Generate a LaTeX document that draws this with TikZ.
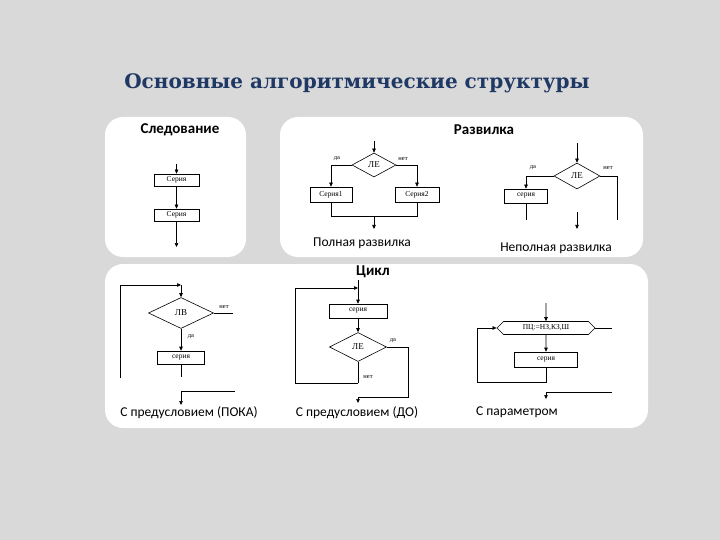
\documentclass[tikz,border=0pt]{standalone}
\usepackage{fontspec}
\setmainfont{Liberation Serif}
\setsansfont{Carlito}
\newfontfamily\titlefont{DejaVu Serif}
\usepackage{tikz}
\usetikzlibrary{arrows.meta, positioning, shapes.geometric, shapes.symbols}
\definecolor{bgGray}{RGB}{217,217,217}
\definecolor{tBlue}{RGB}{31,56,100}

\begin{document}
\begin{tikzpicture}[x=1pt, y=-1pt,
    panel/.style={fill=white, rounded corners=18pt},
    head/.style={font=\sffamily\bfseries\fontsize{15}{17}\selectfont},
    capt/.style={font=\sffamily\fontsize{13.5}{15}\selectfont},
    blk/.style={draw, line width=0.6pt, inner sep=0pt, font=\fontsize{7.5}{8}\selectfont},
    cond/.style={diamond, draw, line width=0.6pt, inner sep=0pt, font=\fontsize{9}{10}\selectfont},
    yn/.style={font=\fontsize{6.5}{7}\selectfont, inner sep=0pt},
    ln/.style={line width=0.6pt},
    arr/.style={line width=0.6pt, -{Triangle[length=4pt, width=3.5pt]}}]
  \fill[bgGray] (0,0) rectangle (720,540);
  \useasboundingbox (0,0) rectangle (720,540);

  \node[font=\titlefont\bfseries\fontsize{20}{24}\selectfont, text=tBlue] (title) at (357,83) {Основные алгоритмические структуры};

  % panels
  \fill[panel] (105,117) rectangle (246,257);
  \fill[panel] (280,117) rectangle (643,257);
  \fill[panel] (105,264) rectangle (648,428);

  % sequence
  \node[head] (hSeq) at (180,130) {Следование};
  \node[blk, minimum width=45pt, minimum height=12pt] (s1) at (176.5,180) {Серия};
  \node[blk, minimum width=45pt, minimum height=12pt] (s2) at (176.5,215) {Серия};
  \coordinate (sIn) at (176.5,164);
  \coordinate (sOut) at (176.5,247);
  \draw[arr] (sIn) -- (s1);
  \draw[arr] (s1) -- (s2);
  \draw[arr] (s2) -- (sOut);

  % full fork
  \node[head] (hFork) at (484,130) {Развилка};
  \node[cond, minimum width=44pt, minimum height=24pt] (d1) at (374,165) {ЛЕ};
  \node[blk, minimum width=42pt, minimum height=15pt] (f1) at (331,194.5) {Серия1};
  \node[blk, minimum width=44pt, minimum height=15pt] (f2) at (417,194.5) {Серия2};
  \coordinate (d1In) at (374,141);
  \coordinate (d1Out) at (374,229);
  \coordinate (f1j) at (331,216);
  \coordinate (f2j) at (417,216);
  \coordinate (mj) at (374,216);
  \draw[arr] (d1In) -- (d1);
  \draw[arr] (d1.west) -| (f1.north);
  \draw[arr] (d1.east) -| (f2.north);
  \draw[ln] (f1.south) -- (f1j) -- (f2j) -- (f2.south);
  \draw[arr] (mj) -- (d1Out);
  \node[yn] (yes1) at (337,159) {да};
  \node[yn] (no1) at (403,159) {нет};
  \node[capt] (cFull) at (362,243) {Полная развилка};

  % partial fork
  \node[cond, minimum width=46pt, minimum height=26pt] (d2) at (577,176) {ЛЕ};
  \node[blk, minimum width=43pt, minimum height=14pt] (p1) at (526,196) {серия};
  \coordinate (d2In) at (577,143);
  \coordinate (d2r) at (617,220);
  \coordinate (p1Out) at (526,220);
  \coordinate (d2x) at (577,212);
  \coordinate (d2Out) at (577,229);
  \draw[arr] (d2In) -- (d2);
  \draw[arr] (d2.west) -| (p1.north);
  \draw[ln] (d2.east) -| (d2r);
  \draw[ln] (p1) -- (p1Out);
  \draw[arr] (d2x) -- (d2Out);
  \node[yn] (yes2) at (533,168) {да};
  \node[yn] (no2) at (608,168) {нет};
  \node[capt] (cPart) at (556,248) {Неполная развилка};

  % loops
  \node[head] (hLoop) at (373,272) {Цикл};

  % while
  \node[cond, minimum width=65pt, minimum height=31pt] (w1) at (181,313) {ЛВ};
  \node[blk, minimum width=47pt, minimum height=13pt] (b1) at (181,357.5) {серия};
  \coordinate (w1Loop) at (120,378);
  \coordinate (w1Top) at (181,285);
  \coordinate (w1No) at (233,313);
  \coordinate (b1Out) at (181,377);
  \coordinate (w1Ex) at (235,391);
  \coordinate (w1Out) at (181,405);
  \draw[arr] (w1Loop) |- (w1Top);
  \draw[arr] (w1Top) -- (w1);
  \draw[ln] (w1.east) -- (w1No);
  \draw[arr] (w1) -- (b1);
  \draw[ln] (b1) -- (b1Out);
  \draw[arr] (w1Ex) -| (w1Out);
  \node[yn] (no3) at (224,307) {нет};
  \node[yn] (yes3) at (191,337) {да};
  \node[capt] (cWhile) at (189,413) {С предусловием (ПОКА)};

  % until
  \node[blk, minimum width=58pt, minimum height=14pt] (b2) at (358,311) {серия};
  \node[cond, minimum width=57pt, minimum height=29pt] (w2) at (358,347) {ЛЕ};
  \coordinate (b2In) at (358,280);
  \coordinate (w2Top) at (358,288);
  \coordinate (w2Bot) at (358,383);
  \coordinate (w2Left) at (295,383);
  \coordinate (w2Yes) at (408,397);
  \coordinate (w2Out) at (358,403);
  \draw[arr] (b2In) -- (b2);
  \draw[arr] (w2Bot) -- (w2Left) |- (w2Top);
  \draw[ln] (w2.south) -- (w2Bot);
  \draw[arr] (b2) -- (w2);
  \draw[arr] (w2.east) -| (w2Yes) -| (w2Out);
  \node[yn] (yes4) at (393,341) {да};
  \node[yn] (no4) at (368,377) {нет};
  \node[capt] (cUntil) at (357,413) {С предусловием (ДО)};

  % for
  \node[signal, signal to=west and east, draw, line width=0.6pt, inner sep=0pt,
        minimum width=98pt, minimum height=13pt, font=\fontsize{7.5}{8}\selectfont] (h1) at (546,328) {ПЦ:=НЗ,КЗ,Ш};
  \node[blk, minimum width=63pt, minimum height=15pt] (b3) at (546,359.5) {серия};
  \coordinate (h1In) at (546,303);
  \coordinate (h1No) at (612,328);
  \coordinate (b3Bot) at (546,382);
  \coordinate (b3Left) at (477,382);
  \coordinate (h1Ex) at (612,392);
  \coordinate (h1Out) at (546,399);
  \draw[arr] (h1In) -- (h1);
  \draw[ln] (h1.east) -- (h1No);
  \draw[arr] (h1) -- (b3);
  \draw[arr] (b3) -- (b3Bot) -- (b3Left) |- (h1.west);
  \draw[arr] (h1Ex) -| (h1Out);
  \node[capt] (cFor) at (517,412) {С параметром};
\end{tikzpicture}
\end{document}
